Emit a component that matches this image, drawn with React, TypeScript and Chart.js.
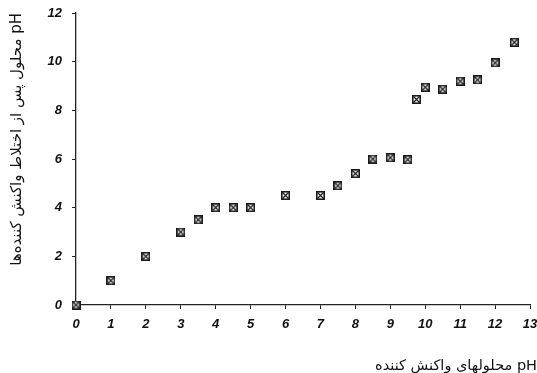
import React, { useEffect, useRef } from "react";
import { Chart, registerables } from "chart.js";

Chart.register(...registerables);

const xValues = [0, 1, 2, 3, 3.5, 4, 4.5, 5, 6, 7, 7.5, 8, 8.5, 9, 9.5, 9.75, 10, 10.5, 11, 11.5, 12, 12.55];
const yValues = [0, 1, 2, 3, 3.5, 4, 4, 4, 4.5, 4.5, 4.9, 5.4, 6, 6.05, 5.97, 8.45, 8.95, 8.87, 9.2, 9.25, 9.95, 10.8];
const xTicks = [0, 1, 2, 3, 4, 5, 6, 7, 8, 9, 10, 11, 12, 13];
const yTicks = [0, 2, 4, 6, 8, 10, 12];
const xTitle = "محلولهای واکنش کننده pH";
const yTitle = "محلول پس از اختلاط واکنش کننده‌ها pH";

function makeMarker(): HTMLCanvasElement {
  const c = document.createElement("canvas");
  c.width = 9;
  c.height = 9;
  const g = c.getContext("2d")!;
  g.fillStyle = "#ffffff";
  g.fillRect(0, 0, 9, 9);
  g.strokeStyle = "#1a1a1a";
  g.lineWidth = 1.6;
  g.strokeRect(0.8, 0.8, 7.4, 7.4);
  g.lineWidth = 1.2;
  g.beginPath();
  g.moveTo(1.5, 1.5);
  g.lineTo(7.5, 7.5);
  g.moveTo(7.5, 1.5);
  g.lineTo(1.5, 7.5);
  g.stroke();
  return c;
}

const xTitlePlugin = {
  id: "xTitlePlugin",
  afterDraw(chart: any) {
    const ctx = chart.ctx;
    ctx.save();
    ctx.font = "14.5px 'DejaVu Sans', sans-serif";
    ctx.fillStyle = "#111";
    ctx.textAlign = "right";
    ctx.textBaseline = "middle";
    ctx.fillText(xTitle, chart.width, 366);
    ctx.restore();
  },
};

export default function App() {
  const ref = useRef<HTMLCanvasElement | null>(null);
  useEffect(() => {
    if (!ref.current) return;
    const marker = makeMarker();
    const tickFont = { family: "Liberation Sans, Arial, sans-serif", size: 13, style: "italic" as const, weight: "bold" as const };
    const chart = new Chart(ref.current, {
      type: "scatter",
      data: {
        datasets: [
          {
            data: xValues.map((x, i) => ({ x, y: yValues[i] })),
            pointStyle: marker as any,
            pointRadius: 4.5,
            clip: false as any,
          },
        ],
      },
      options: {
        animation: false,
        responsive: false,
        layout: { padding: { top: 13, right: 7, left: 0, bottom: 0 } },
        plugins: { legend: { display: false }, tooltip: { enabled: false } },
        scales: {
          x: {
            type: "linear",
            min: 0,
            max: 13,
            afterBuildTicks: (s: any) => {
              s.ticks = xTicks.map((v) => ({ value: v }));
            },
            afterFit: (s: any) => {
              s.height = 68;
              s.paddingRight = 0;
            },
            grid: {
              drawOnChartArea: false,
              drawTicks: true,
              tickLength: 4,
              color: "#222",
              lineWidth: 1,
            },
            border: { display: true, color: "#222", width: 1.3 },
            ticks: { color: "#111", font: tickFont, padding: 8, maxRotation: 0 },
          },
          y: {
            type: "linear",
            min: 0,
            max: 12,
            afterBuildTicks: (s: any) => {
              s.ticks = yTicks.map((v) => ({ value: v }));
            },
            afterFit: (s: any) => {
              s.width = 76;
              s.paddingTop = 0;
              s.paddingBottom = 0;
            },
            grid: {
              drawOnChartArea: false,
              drawTicks: true,
              tickLength: 4,
              color: "#222",
              lineWidth: 1,
            },
            border: { display: true, color: "#222", width: 1.3 },
            ticks: { color: "#111", font: tickFont, padding: 10 },
            title: {
              display: true,
              text: yTitle,
              align: "end",
              color: "#111",
              font: { family: "DejaVu Sans, sans-serif", size: 15 },
              padding: { top: 8, bottom: 0 },
            },
          },
        },
      },
      plugins: [xTitlePlugin],
    });
    return () => chart.destroy();
  }, []);
  return (
    <div style={{ position: "fixed", left: 0, top: 0, width: 537, height: 373, background: "#fff" }}>
      <canvas ref={ref} width={537} height={373} />
    </div>
  );
}
